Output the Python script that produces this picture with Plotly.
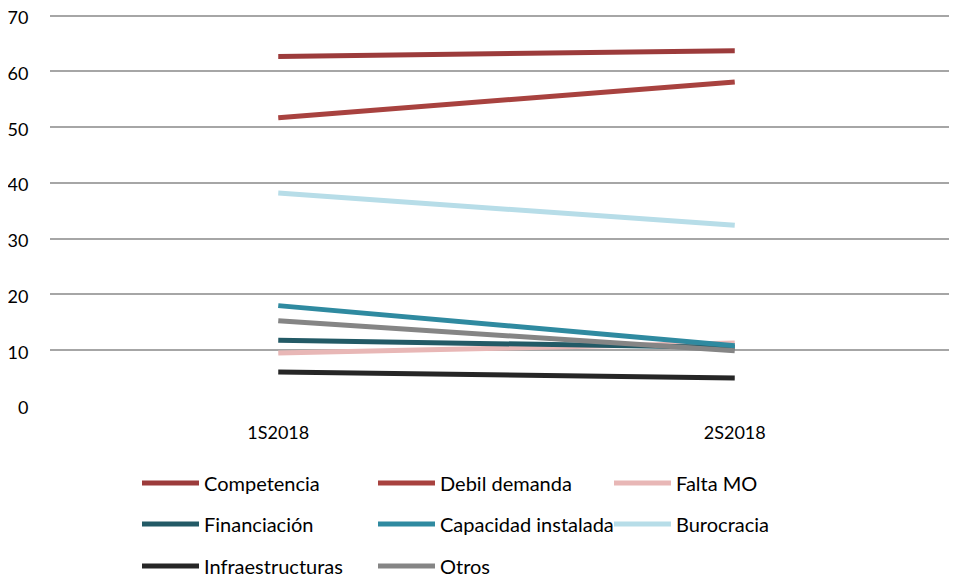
import plotly.graph_objects as go

periodos = ["1S2018", "2S2018"]

competencia = [62.7, 63.7]
debil_demanda = [51.7, 58.1]
falta_mo = [9.5, 11.3]
financiacion = [11.8, 10.5]
capacidad_instalada = [18.0, 10.8]
burocracia = [38.2, 32.4]
infraestructuras = [6.1, 5.0]
otros = [15.3, 9.9]

series = [
    ("Competencia", competencia, "#9c3b3b", "legend"),
    ("Debil demanda", debil_demanda, "#a8423f", "legend"),
    ("Falta MO", falta_mo, "#e8b7b6", "legend"),
    ("Financiación", financiacion, "#235a66", "legend2"),
    ("Capacidad instalada", capacidad_instalada, "#2f8aa0", "legend2"),
    ("Burocracia", burocracia, "#b7dde8", "legend2"),
    ("Infraestructuras", infraestructuras, "#262626", "legend3"),
    ("Otros", otros, "#858585", "legend3"),
]

fig = go.Figure()
for name, vals, color, leg in series:
    fig.add_trace(
        go.Scatter(
            x=periodos,
            y=vals,
            name=name,
            mode="lines",
            line=dict(color=color, width=5),
            legend=leg,
        )
    )

font = dict(family="Lato, Open Sans, sans-serif", size=18, color="#000000")
legend_font = dict(family="Lato, Open Sans, sans-serif", size=20, color="#000000")


# una leyenda por fila para controlar el espaciado vertical
def legend_row(y):
    return dict(
        orientation="h",
        xref="container",
        x=0.1348,
        xanchor="left",
        yref="container",
        y=y,
        yanchor="middle",
        entrywidth=164,
        entrywidthmode="pixels",
        itemwidth=57,
        font=legend_font,
        bgcolor="rgba(0,0,0,0)",
    )


fig.update_layout(
    width=957,
    height=581,
    margin=dict(l=42, r=2, t=6, b=183, autoexpand=False),
    plot_bgcolor="white",
    paper_bgcolor="white",
    font=font,
    showlegend=True,
    legend=legend_row(0.1824),
    legend2=legend_row(0.1119),
    legend3=legend_row(0.0396),
)
fig.update_xaxes(
    range=[-0.5, 1.5],
    showgrid=False,
    showline=False,
    zeroline=False,
    ticks="outside",
    ticklen=10,
    tickcolor="rgba(0,0,0,0)",
    tickfont=font,
)
fig.update_yaxes(
    range=[0, 70.3],
    tickvals=[0, 10, 20, 30, 40, 50, 60, 70],
    showgrid=True,
    gridcolor="#a6a6a6",
    gridwidth=2,
    zeroline=False,
    showline=False,
    ticks="outside",
    ticklen=17,
    tickcolor="rgba(0,0,0,0)",
    tickfont=font,
    ticklabeloverflow="allow",
    ticklabelshift=2,
)

fig.write_html("out.html")
